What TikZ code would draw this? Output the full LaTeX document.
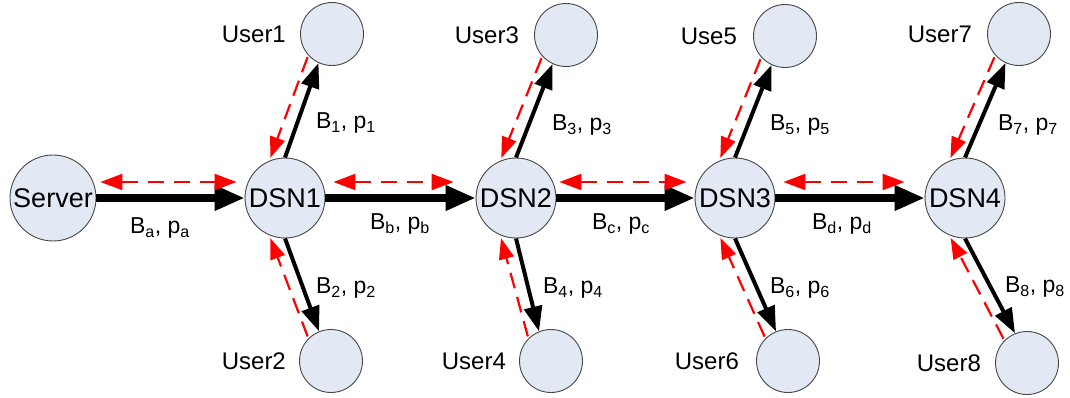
\documentclass[tikz,border=0pt]{standalone}
\usepackage{fontspec}
\setmainfont{Liberation Sans}
\usetikzlibrary{arrows.meta,calc}
\definecolor{nodefill}{RGB}{226,233,245}
\definecolor{nodeline}{RGB}{70,70,70}
\definecolor{flowred}{RGB}{255,0,0}
\begin{document}
\begin{tikzpicture}[x=1pt,y=-1pt,
  hub/.style={circle,draw=nodeline,line width=0.9pt,fill=nodefill,minimum size=80pt,inner sep=0pt,font=\fontsize{27}{30}\selectfont},
  src/.style={hub,minimum size=86pt},
  user/.style={circle,draw=nodeline,line width=0.9pt,fill=nodefill,minimum size=63pt,inner sep=0pt},
  ulabel/.style={anchor=east,inner sep=0pt,font=\fontsize{24}{28}\selectfont},
  elabel/.style={inner sep=0pt,font=\fontsize{23}{27}\selectfont},
  trunk/.style={line width=7pt,-{Triangle[length=30pt,width=24pt]}},
  branch/.style={line width=4pt,-{Triangle[length=25pt,width=18pt]}},
  fb/.style={draw=flowred,line width=2.2pt,dash pattern=on 16pt off 9pt,-{Triangle[length=21pt,width=15pt]}},
  fbboth/.style={draw=flowred,line width=2.2pt,dash pattern=on 16pt off 10pt,{Triangle[length=22pt,width=16pt]}-{Triangle[length=22pt,width=16pt]}},
]
\useasboundingbox (0,0) rectangle (1070,398);

% server and distribution nodes
\node[src] (server) at (53,198) {Server};
\node[hub] (dsn1) at (285,198) {DSN1};
\node[hub] (dsn2) at (516,198) {DSN2};
\node[hub] (dsn3) at (735,198) {DSN3};
\node[hub] (dsn4) at (965,198) {DSN4};

% users
\node[user] (u1) at (332,34) {};
\node[user] (u2) at (331,361) {};
\node[user] (u3) at (566,35) {};
\node[user] (u4) at (551,361) {};
\node[user] (u5) at (785,36) {};
\node[user] (u6) at (788,361) {};
\node[user] (u7) at (1019,34) {};
\node[user] (u8) at (1027,363) {};

\node[ulabel] (l1) at ($(u1.west)+(-14,0)$) {User1};
\node[ulabel] (l2) at ($(u2.west)+(-13,0)$) {User2};
\node[ulabel] (l3) at ($(u3.west)+(-15,0)$) {User3};
\node[ulabel] (l4) at ($(u4.west)+(-13,0)$) {User4};
\node[ulabel] (l5) at ($(u5.west)+(-16,0)$) {Use5};
\node[ulabel] (l6) at ($(u6.west)+(-17,0)$) {User6};
\node[ulabel] (l7) at ($(u7.west)+(-15,0)$) {User7};
\node[ulabel] (l8) at ($(u8.west)+(-14,0)$) {User8};

% main chain
\draw[trunk] (server) -- (dsn1);
\draw[trunk] (dsn1) -- (dsn2);
\draw[trunk] (dsn2) -- (dsn3);
\draw[trunk] (dsn3) -- (dsn4);

% feedback along the chain
\draw[fbboth] ($(server.east)+(4,-16)$) -- ($(dsn1.west)+(-8,-16)$);
\draw[fbboth] ($(dsn1.east)+(8,-16)$) -- ($(dsn2.west)+(-22,-16)$);
\draw[fbboth] ($(dsn2.east)+(3,-16)$) -- ($(dsn3.west)+(-8,-16)$);
\draw[fbboth] ($(dsn3.east)+(8,-16)$) -- ($(dsn4.west)+(-20,-16)$);

% branches to the users
\foreach \h/\a/\b in {dsn1/u1/u2, dsn2/u3/u4, dsn3/u5/u6, dsn4/u7/u8}{
  \draw[branch] (\h.90) -- (\a.245);
  \draw[fb,shorten <=2pt,shorten >=3pt] (\a.222) -- (\h.113);
  \draw[branch] (\h.270) -- (\b.112);
  \draw[fb,shorten <=2pt,shorten >=3pt] (\b.135) -- (\h.247);
}

% bandwidth / probability labels
\node[elabel] (ea) at (160,228) {B\textsubscript{a}, p\textsubscript{a}};
\node[elabel] (eb) at (400,224) {B\textsubscript{b}, p\textsubscript{b}};
\node[elabel] (ec) at (621,224) {B\textsubscript{c}, p\textsubscript{c}};
\node[elabel] (ed) at (842,224) {B\textsubscript{d}, p\textsubscript{d}};
\node[elabel] (e1) at (346,123) {B\textsubscript{1}, p\textsubscript{1}};
\node[elabel] (e2) at (346,288) {B\textsubscript{2}, p\textsubscript{2}};
\node[elabel] (e3) at (582,125) {B\textsubscript{3}, p\textsubscript{3}};
\node[elabel] (e4) at (573,288) {B\textsubscript{4}, p\textsubscript{4}};
\node[elabel] (e5) at (800,125) {B\textsubscript{5}, p\textsubscript{5}};
\node[elabel] (e6) at (800,288) {B\textsubscript{6}, p\textsubscript{6}};
\node[elabel] (e7) at (1028,125) {B\textsubscript{7}, p\textsubscript{7}};
\node[elabel] (e8) at (1035,287) {B\textsubscript{8}, p\textsubscript{8}};
\end{tikzpicture}
\end{document}
